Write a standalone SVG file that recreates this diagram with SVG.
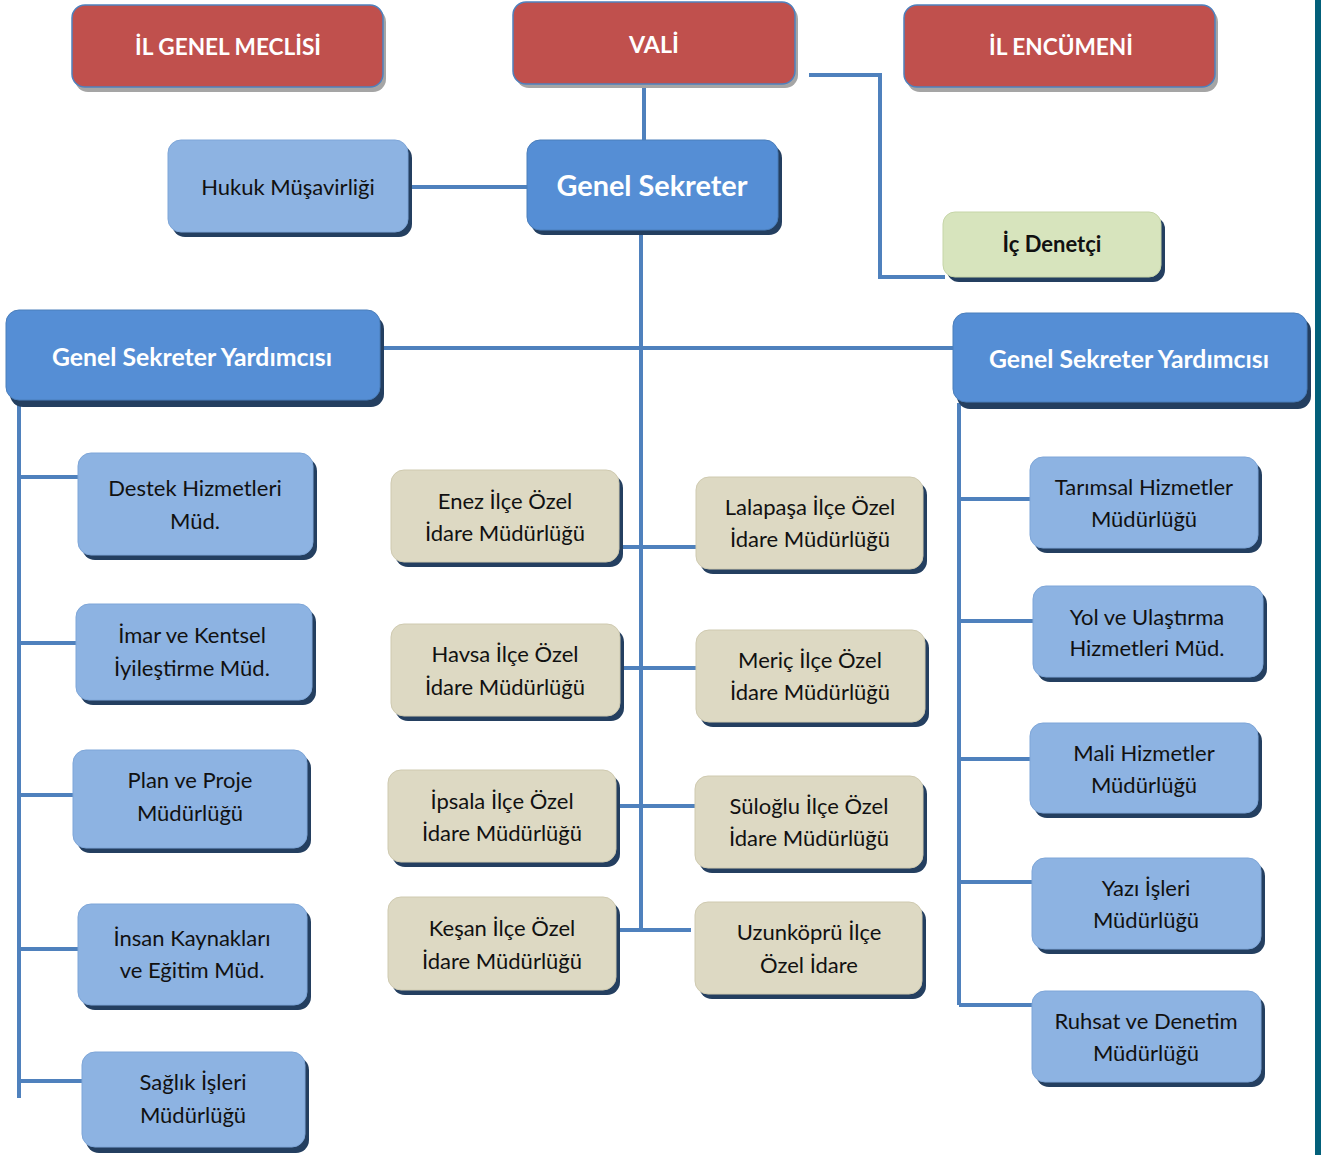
<svg xmlns="http://www.w3.org/2000/svg" width="1321" height="1155" viewBox="0 0 1321 1155">
<style>
.sh{fill:#243f60}
.shr{fill:#a5a5a5}
.red{fill:#c0504d;stroke:#4f81bd;stroke-width:1.5}
.gs{fill:#558ed5;stroke:#4a7ebb;stroke-width:1}
.lb{fill:#8db3e2;stroke:#7ea6d8;stroke-width:1}
.bg{fill:#ddd9c3;stroke:#cfcab0;stroke-width:1}
.gr{fill:#d7e4bd;stroke:#c6d5a8;stroke-width:1}
text{font-family:Lato,"Liberation Sans",Arial,sans-serif;text-anchor:middle}
.wt{fill:#fff;font-weight:bold}
.t{fill:#111;font-size:22px}
.c{fill:none;stroke:#4f81bd;stroke-width:4}
</style>
<rect x="1315" y="0" width="6" height="1155" fill="#03607a"/>
<g id="connectors">
<path class="c" d="M644 86V141"/>
<path class="c" d="M809 75H880V277H945"/>
<path class="c" d="M408 187H528"/>
<path class="c" d="M641 231V931"/>
<path class="c" d="M380 348H954"/>
<path class="c" d="M19 401V1098"/>
<path class="c" d="M19 477H78M19 643H77M19 795H74M19 949H79M19 1081H83"/>
<path class="c" d="M619 547H696M620 668H696M616 806H695M616 930H691"/>
<path class="c" d="M959 403V1005"/>
<path class="c" d="M959 499H1031M959 621H1034M959 759H1031M959 882H1033M959 1005H1033"/>
</g>
<g id="il-genel-meclisi"><rect class="shr" x="75" y="9" width="311" height="83" rx="13"/><rect class="red" x="72" y="5" width="311" height="82" rx="13"/><text class="wt" x="228" y="55" font-size="23" textLength="186" lengthAdjust="spacingAndGlyphs">İL GENEL MECLİSİ</text></g>
<g id="vali"><rect class="shr" x="516" y="6" width="282" height="82" rx="13"/><rect class="red" x="513" y="2" width="282" height="82" rx="13"/><text class="wt" x="654" y="53" font-size="23" textLength="50" lengthAdjust="spacingAndGlyphs">VALİ</text></g>
<g id="il-encumeni"><rect class="shr" x="907" y="9" width="311" height="83" rx="13"/><rect class="red" x="904" y="5" width="311" height="82" rx="13"/><text class="wt" x="1061" y="55" font-size="23" textLength="144" lengthAdjust="spacingAndGlyphs">İL ENCÜMENİ</text></g>
<g id="genel-sekreter"><rect class="sh" x="531" y="145" width="251" height="90" rx="13"/><rect class="gs" x="527" y="140" width="251" height="90" rx="13"/><text class="wt" x="652" y="196" font-size="29" textLength="191" lengthAdjust="spacingAndGlyphs">Genel Sekreter</text></g>
<g id="hukuk"><rect class="sh" x="172" y="145" width="240" height="92" rx="13"/><rect class="lb" x="168" y="140" width="240" height="92" rx="13"/><text class="t" x="288" y="195">Hukuk Müşavirliği</text></g>
<g id="ic-denetci"><rect class="sh" x="947" y="217" width="218" height="65" rx="12"/><rect class="gr" x="943" y="212" width="218" height="65" rx="12"/><text class="t" x="1052" y="252" font-weight="bold">İç Denetçi</text></g>
<g id="gsy-left"><rect class="sh" x="10" y="316" width="374" height="91" rx="13"/><rect class="gs" x="6" y="310" width="374" height="90" rx="13"/><text class="wt" x="192" y="366" font-size="25" textLength="280" lengthAdjust="spacingAndGlyphs">Genel Sekreter Yardımcısı</text></g>
<g id="gsy-right"><rect class="sh" x="957" y="318" width="354" height="91" rx="13"/><rect class="gs" x="953" y="313" width="354" height="89" rx="13"/><text class="wt" x="1129" y="368" font-size="25" textLength="280" lengthAdjust="spacingAndGlyphs">Genel Sekreter Yardımcısı</text></g>
<g id="destek"><rect class="sh" x="82" y="458" width="235" height="102" rx="13"/><rect class="lb" x="78" y="453" width="235" height="102" rx="13"/><text class="t" x="195" y="496">Destek Hizmetleri</text><text class="t" x="195" y="529">Müd.</text></g>
<g id="imar"><rect class="sh" x="80" y="609" width="236" height="96" rx="13"/><rect class="lb" x="76" y="604" width="236" height="96" rx="13"/><text class="t" x="192" y="643">İmar ve Kentsel</text><text class="t" x="192" y="676">İyileştirme Müd.</text></g>
<g id="plan"><rect class="sh" x="77" y="755" width="234" height="98" rx="13"/><rect class="lb" x="73" y="750" width="234" height="98" rx="13"/><text class="t" x="190" y="788">Plan ve Proje</text><text class="t" x="190" y="821">Müdürlüğü</text></g>
<g id="insan"><rect class="sh" x="82" y="909" width="229" height="101" rx="13"/><rect class="lb" x="78" y="904" width="229" height="101" rx="13"/><text class="t" x="192" y="946">İnsan Kaynakları</text><text class="t" x="192" y="978">ve Eğitim Müd.</text></g>
<g id="saglik"><rect class="sh" x="86" y="1057" width="223" height="96" rx="13"/><rect class="lb" x="82" y="1052" width="223" height="95" rx="13"/><text class="t" x="193" y="1090">Sağlık İşleri</text><text class="t" x="193" y="1123">Müdürlüğü</text></g>
<g id="enez"><rect class="sh" x="395" y="475" width="228" height="92" rx="13"/><rect class="bg" x="391" y="470" width="228" height="92" rx="13"/><text class="t" x="505" y="509">Enez İlçe Özel</text><text class="t" x="505" y="541">İdare Müdürlüğü</text></g>
<g id="lalapasa"><rect class="sh" x="700" y="482" width="227" height="92" rx="13"/><rect class="bg" x="696" y="477" width="227" height="92" rx="13"/><text class="t" x="810" y="515">Lalapaşa İlçe Özel</text><text class="t" x="810" y="547">İdare Müdürlüğü</text></g>
<g id="havsa"><rect class="sh" x="395" y="629" width="229" height="92" rx="13"/><rect class="bg" x="391" y="624" width="229" height="92" rx="13"/><text class="t" x="505" y="662">Havsa İlçe Özel</text><text class="t" x="505" y="695">İdare Müdürlüğü</text></g>
<g id="meric"><rect class="sh" x="700" y="635" width="229" height="92" rx="13"/><rect class="bg" x="696" y="630" width="229" height="92" rx="13"/><text class="t" x="810" y="668">Meriç İlçe Özel</text><text class="t" x="810" y="700">İdare Müdürlüğü</text></g>
<g id="ipsala"><rect class="sh" x="392" y="775" width="228" height="92" rx="13"/><rect class="bg" x="388" y="770" width="228" height="92" rx="13"/><text class="t" x="502" y="809">İpsala İlçe Özel</text><text class="t" x="502" y="841">İdare Müdürlüğü</text></g>
<g id="suloglu"><rect class="sh" x="699" y="781" width="228" height="92" rx="13"/><rect class="bg" x="695" y="776" width="228" height="92" rx="13"/><text class="t" x="809" y="814">Süloğlu İlçe Özel</text><text class="t" x="809" y="846">İdare Müdürlüğü</text></g>
<g id="kesan"><rect class="sh" x="392" y="902" width="228" height="93" rx="13"/><rect class="bg" x="388" y="897" width="228" height="93" rx="13"/><text class="t" x="502" y="936">Keşan İlçe Özel</text><text class="t" x="502" y="969">İdare Müdürlüğü</text></g>
<g id="uzunkopru"><rect class="sh" x="699" y="907" width="227" height="92" rx="13"/><rect class="bg" x="695" y="902" width="227" height="92" rx="13"/><text class="t" x="809" y="940">Uzunköprü İlçe</text><text class="t" x="809" y="973">Özel İdare</text></g>
<g id="tarimsal"><rect class="sh" x="1034" y="462" width="228" height="91" rx="13"/><rect class="lb" x="1030" y="457" width="228" height="91" rx="13"/><text class="t" x="1144" y="495">Tarımsal Hizmetler</text><text class="t" x="1144" y="527">Müdürlüğü</text></g>
<g id="yol"><rect class="sh" x="1037" y="591" width="230" height="91" rx="13"/><rect class="lb" x="1033" y="586" width="230" height="91" rx="13"/><text class="t" x="1147" y="625">Yol ve Ulaştırma</text><text class="t" x="1147" y="656">Hizmetleri Müd.</text></g>
<g id="mali"><rect class="sh" x="1034" y="728" width="228" height="90" rx="13"/><rect class="lb" x="1030" y="723" width="228" height="90" rx="13"/><text class="t" x="1144" y="761">Mali Hizmetler</text><text class="t" x="1144" y="793">Müdürlüğü</text></g>
<g id="yazi"><rect class="sh" x="1036" y="863" width="229" height="91" rx="13"/><rect class="lb" x="1032" y="858" width="229" height="91" rx="13"/><text class="t" x="1146" y="896">Yazı İşleri</text><text class="t" x="1146" y="928">Müdürlüğü</text></g>
<g id="ruhsat"><rect class="sh" x="1036" y="996" width="229" height="91" rx="13"/><rect class="lb" x="1032" y="991" width="229" height="91" rx="13"/><text class="t" x="1146" y="1029">Ruhsat ve Denetim</text><text class="t" x="1146" y="1061">Müdürlüğü</text></g>
</svg>
